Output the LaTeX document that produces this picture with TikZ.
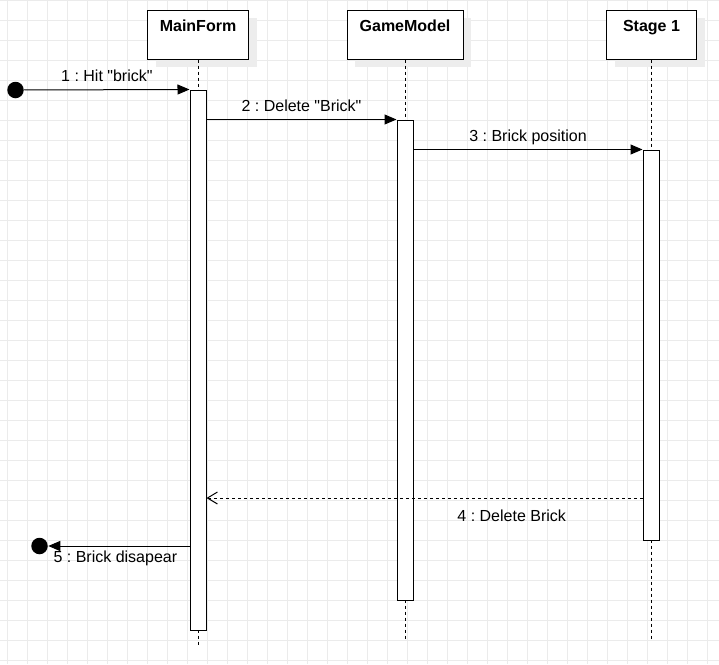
\documentclass[tikz,border=0pt]{standalone}
\usepackage{fontspec}
\setmainfont{Liberation Sans}
\usepackage{tikz}
\usetikzlibrary{arrows.meta,positioning,calc,shadows}
\frenchspacing

\begin{document}
\begin{tikzpicture}[x=1pt,y=-1pt,line width=1pt,
    lifebox/.style={draw,fill=white,inner xsep=0pt,inner ysep=0pt,
        text height=21pt,text depth=28pt,font=\fontsize{16}{19}\selectfont\bfseries,
        general shadow={fill=black!7,shadow xshift=8pt,shadow yshift=-8pt}},
    act/.style={draw,fill=white,minimum width=16pt,inner sep=0pt},
    dot/.style={circle,fill=black,minimum size=16.5pt,inner sep=0pt},
    life/.style={dash pattern=on 3pt off 3pt},
    msg/.style={-{Triangle[length=12pt,width=10pt]}},
    reply/.style={dash pattern=on 3pt off 3pt,-{Straight Barb[length=10pt,width=12pt]}},
    msglabel/.style={font=\fontsize{16}{19}\selectfont,anchor=base}]

    \useasboundingbox (0,0) rectangle (719,664);
    \fill[white] (0,0) rectangle (719,664);
    \foreach \x in {7,27,...,707} {
        \draw[black!8] (\x,0) -- (\x,664);
    }
    \foreach \y in {0,20,...,660} {
        \draw[black!8] (0,\y) -- (719,\y);
    }

    \node[lifebox,minimum width=101pt] (mainform) at (198,34.5) {MainForm};
    \node[lifebox,minimum width=116pt] (gamemodel) at (405,34.5) {GameModel};
    \node[lifebox,minimum width=90pt] (stage) at (651.5,34.5) {Stage 1};

    \coordinate (mainend) at (198,647);
    \coordinate (gameend) at (405,640);
    \coordinate (stageend) at (651.5,640);
    \draw[life] (mainform.south) -- (mainend);
    \draw[life] (gamemodel.south) -- (gameend);
    \draw[life] (stage.south) -- (stageend);

    \node[act,minimum height=540pt] (mainact) at (198,360) {};
    \node[act,minimum height=480pt] (gameact) at (405,360) {};
    \node[act,minimum height=390pt] (stageact) at (651,345) {};

    \node[dot] (start) at (15.5,90) {};
    \node[dot] (finish) at (39.5,546) {};
    \coordinate (replyy) at (0,498);

    \draw[msg] (start) -- (mainact.north west)
        node[msglabel,midway,yshift=8pt] {1 : Hit \textquotedbl brick\textquotedbl};
    \draw[msg] (mainact.east |- gameact.north) -- (gameact.north west)
        node[msglabel,midway,yshift=8pt] {2 : Delete \textquotedbl Brick\textquotedbl};
    \draw[msg] (gameact.east |- stageact.north) -- (stageact.north west)
        node[msglabel,midway,yshift=8pt] {3 : Brick position};
    \draw[reply] (stageact.west |- replyy) -- (mainact.east |- replyy)
        node[msglabel,pos=0.3,yshift=-23pt] {4 : Delete Brick};
    \draw[msg] (mainact.west |- finish) -- (finish)
        node[msglabel,pos=0.525,yshift=-16pt] {5 : Brick disapear};
\end{tikzpicture}
\end{document}
